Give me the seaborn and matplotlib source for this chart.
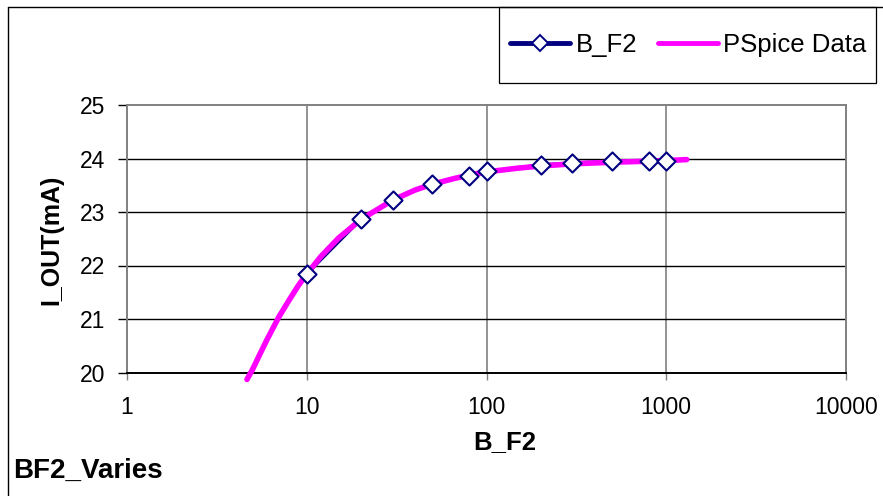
import matplotlib
matplotlib.use("Agg")
import matplotlib.pyplot as plt
import numpy as np
import pandas as pd
import seaborn as sns
from matplotlib.lines import Line2D
from matplotlib.patches import Rectangle
from matplotlib.ticker import FixedLocator, FixedFormatter, NullLocator

# ---- data ----
bf2_x = [10, 20, 30, 50, 80, 100, 200, 300, 500, 800, 1000]
bf2_y = [21.84, 22.86, 23.23, 23.53, 23.68, 23.76, 23.88, 23.92, 23.95, 23.96, 23.96]

pspice_x = [4.65, 5, 5.5, 6, 7, 8, 9, 10, 12, 15, 20, 30, 40, 50, 65, 80, 100,
            150, 200, 300, 500, 800, 1000, 1300]
pspice_y = [19.87, 20.06, 20.35, 20.61, 21.04, 21.36, 21.63, 21.84, 22.17, 22.51,
            22.86, 23.22, 23.41, 23.52, 23.62, 23.69, 23.75, 23.82, 23.86, 23.90,
            23.93, 23.95, 23.96, 23.98]

x_ticks = [1, 10, 100, 1000, 10000]
x_tick_labels = ["1", "10", "100", "1000", "10000"]
y_ticks = [20, 21, 22, 23, 24, 25]
y_tick_labels = ["20", "21", "22", "23", "24", "25"]

series_names = ["B_F2", "PSpice Data"]
x_title = "B_F2"
y_title = "I_OUT(mA)"
chart_title = "BF2_Varies"

NAVY = "#000080"
MAGENTA = "#FF00FF"

sns.set_theme(style="white")
plt.rcParams["font.family"] = ["Liberation Sans", "DejaVu Sans"]
plt.rcParams["text.color"] = "black"
plt.rcParams["axes.labelcolor"] = "black"
plt.rcParams["xtick.labelcolor"] = "black"
plt.rcParams["ytick.labelcolor"] = "black"

W, H = 883, 496
fig = plt.figure(figsize=(W / 100, H / 100), dpi=100)
fig.patch.set_facecolor("white")

L, R, T, B = 127, 846, 105, 372.5
ax = fig.add_axes([L / W, 1 - B / H, (R - L) / W, (B - T) / H])
ax.set_facecolor("white")
ax.set_xscale("log")

df_b = pd.DataFrame({"x": bf2_x, "y": bf2_y})
df_p = pd.DataFrame({"x": pspice_x, "y": pspice_y})

# navy connecting line (under magenta)
sns.lineplot(data=df_b, x="x", y="y", ax=ax, color=NAVY, linewidth=2.2,
             sort=False, zorder=3, legend=False)
# PSpice magenta curve
sns.lineplot(data=df_p, x="x", y="y", ax=ax, color=MAGENTA, linewidth=4.0,
             sort=False, zorder=4, legend=False, clip_on=False)
# diamond markers on top
sns.scatterplot(data=df_b, x="x", y="y", ax=ax, marker="D", s=85,
                facecolor="white", edgecolor=NAVY, linewidth=1.5, zorder=5,
                legend=False)
for ln in ax.lines:
    ln.set_solid_capstyle("round")

ax.set_xlim(1, 10000)
ax.set_ylim(20, 25)
ax.xaxis.set_major_locator(FixedLocator(x_ticks))
ax.xaxis.set_major_formatter(FixedFormatter(x_tick_labels))
ax.xaxis.set_minor_locator(NullLocator())
ax.yaxis.set_major_locator(FixedLocator(y_ticks))
ax.yaxis.set_major_formatter(FixedFormatter(y_tick_labels))

ax.set_xlabel("")
ax.set_ylabel("")

# gridlines: vertical gray, horizontal black
for xv in x_ticks[1:-1]:
    ax.axvline(xv, color="#808080", lw=1.2, zorder=1)
for yv in y_ticks[1:-1]:
    ax.axhline(yv, color="#000000", lw=1.0, zorder=1)

for s in ["top", "right", "left"]:
    ax.spines[s].set_color("#808080")
    ax.spines[s].set_linewidth(1.4)
ax.spines["bottom"].set_color("#000000")
ax.spines["bottom"].set_linewidth(1.4)

ax.tick_params(axis="y", direction="out", length=6.5, width=1.0, color="#000000",
               pad=9, labelsize=16.5, left=True, labelcolor="black")
ax.tick_params(axis="x", direction="out", length=5, width=1.0, color="#808080",
               pad=12, labelsize=16.5, bottom=True, labelcolor="black")

# axis titles
fig.text(505 / W, 1 - 442 / H, x_title, fontsize=18.5, fontweight="bold",
         ha="center", va="center", color="black")
fig.text(51 / W, 1 - 240 / H, y_title, fontsize=18, fontweight="bold",
         ha="center", va="center", rotation=90, color="black")
fig.text(13 / W, 1 - 471 / H, chart_title, fontsize=20, fontweight="bold",
         ha="left", va="center", color="black")

# outer border (left + top visible)
fig.add_artist(Line2D([8 / W, 8 / W], [0, 1 - 7 / H], transform=fig.transFigure,
                      color="black", lw=1.0))
fig.add_artist(Line2D([8 / W, 1], [1 - 7 / H, 1 - 7 / H], transform=fig.transFigure,
                      color="black", lw=1.0))

# legend box
fig.add_artist(Rectangle((499 / W, 1 - 83 / H), 377 / W, 76 / H,
                         transform=fig.transFigure, fill=False,
                         edgecolor="black", lw=0.9))
handles = [
    Line2D([], [], color=NAVY, lw=3.5, marker="D", markersize=8,
           markerfacecolor="white", markeredgecolor=NAVY, markeredgewidth=1.4,
           solid_capstyle="round"),
    Line2D([], [], color=MAGENTA, lw=3.5, solid_capstyle="round"),
]
fig.legend(handles, series_names, loc="center left",
           bbox_to_anchor=(510 / W, 1 - 45 / H), ncol=2, frameon=False,
           fontsize=18.5, handlelength=2.35, handletextpad=0.2, columnspacing=0.8,
           borderpad=0, borderaxespad=0, labelcolor="black")

fig.savefig("out.png", dpi=100, facecolor="white")
